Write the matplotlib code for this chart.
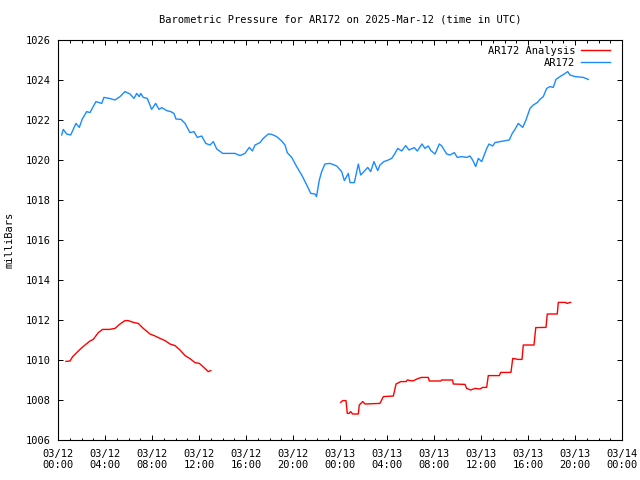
import matplotlib
matplotlib.use('Agg')
import matplotlib.pyplot as plt
from matplotlib.ticker import MultipleLocator

# hours since 03/12 00:00 UTC, pressure in millibars
obs_hours = [0.31, 0.45, 0.74, 1.08, 1.53, 1.81, 2.07, 2.44, 2.72, 3.23, 3.72, 3.91,
             4.37, 4.85, 5.28, 5.70, 6.13, 6.47, 6.70, 6.92, 7.04, 7.26, 7.60, 7.97,
             8.31, 8.60, 8.83, 9.25, 9.59, 9.87, 10.04, 10.47, 10.81, 11.23, 11.57,
             11.86, 12.23, 12.57, 12.94, 13.22, 13.51, 14.02, 15.06, 15.49, 15.91,
             16.28, 16.54, 16.77, 17.19, 17.47, 17.90, 18.19, 18.61, 19.04, 19.32,
             19.51, 19.89, 20.31, 20.74, 21.17, 21.51, 21.87, 22.00, 22.24, 22.44,
             22.72, 23.15, 23.72, 24.14, 24.37, 24.71, 24.85, 25.22, 25.56, 25.76,
             26.04, 26.36, 26.61, 26.89, 27.21, 27.40, 27.74, 28.11, 28.40, 28.68,
             28.91, 29.25, 29.59, 29.87, 30.32, 30.58, 30.98, 31.23, 31.51, 31.74,
             32.09, 32.45, 32.66, 33.08, 33.36, 33.73, 33.98, 34.36, 34.78, 35.06,
             35.29, 35.55, 35.77, 36.06, 36.28, 36.49, 36.68, 37.00, 37.19, 37.62,
             38.41, 38.66, 38.89, 39.17, 39.55, 39.83, 40.17, 40.45, 40.79, 41.02,
             41.30, 41.59, 41.87, 42.15, 42.38, 42.72, 43.09, 43.38, 43.57, 44.00,
             44.71, 45.13]
obs_mb = [1021.25, 1021.53, 1021.30, 1021.25, 1021.83, 1021.63, 1022.05, 1022.42,
          1022.37, 1022.92, 1022.83, 1023.13, 1023.08, 1023.00, 1023.17, 1023.42,
          1023.30, 1023.08, 1023.33, 1023.17, 1023.33, 1023.13, 1023.08, 1022.53,
          1022.83, 1022.53, 1022.62, 1022.47, 1022.42, 1022.33, 1022.05, 1022.03,
          1021.83, 1021.37, 1021.42, 1021.13, 1021.20, 1020.83, 1020.75, 1020.92,
          1020.55, 1020.33, 1020.33, 1020.22, 1020.33, 1020.63, 1020.45, 1020.75,
          1020.87, 1021.08, 1021.30, 1021.28, 1021.17, 1020.95, 1020.75, 1020.37,
          1020.13, 1019.67, 1019.25, 1018.75, 1018.33, 1018.30, 1018.17, 1019.00,
          1019.42, 1019.80, 1019.83, 1019.70, 1019.42, 1018.97, 1019.33, 1018.87,
          1018.87, 1019.80, 1019.25, 1019.42, 1019.63, 1019.42, 1019.92, 1019.47,
          1019.75, 1019.92, 1020.00, 1020.08, 1020.33, 1020.58, 1020.45, 1020.72,
          1020.50, 1020.62, 1020.45, 1020.80, 1020.58, 1020.70, 1020.47, 1020.30,
          1020.80, 1020.70, 1020.30, 1020.25, 1020.37, 1020.13, 1020.17, 1020.13,
          1020.20, 1020.00, 1019.67, 1020.08, 1019.92, 1020.25, 1020.58, 1020.80,
          1020.70, 1020.87, 1020.92, 1021.00, 1021.33, 1021.53, 1021.83, 1021.63,
          1022.00, 1022.58, 1022.75, 1022.87, 1023.03, 1023.17, 1023.58, 1023.67,
          1023.63, 1024.03, 1024.17, 1024.30, 1024.42, 1024.25, 1024.17, 1024.13,
          1024.03]

ana1_hours = [0.68, 1.02, 1.25, 1.59, 1.87, 2.30, 2.72, 3.00, 3.43, 3.80, 4.37, 4.85,
              5.28, 5.70, 5.98, 6.41, 6.83, 7.26, 7.83, 8.26, 8.68, 9.11, 9.53, 9.96,
              10.38, 10.81, 11.23, 11.66, 12.03, 12.43, 12.79, 13.00]
ana1_mb = [1009.93, 1009.95, 1010.17, 1010.37, 1010.53, 1010.75, 1010.95, 1011.03,
           1011.37, 1011.53, 1011.53, 1011.58, 1011.80, 1011.97, 1011.97, 1011.88,
           1011.83, 1011.58, 1011.30, 1011.20, 1011.08, 1010.97, 1010.80, 1010.72,
           1010.50, 1010.22, 1010.07, 1009.87, 1009.83, 1009.62, 1009.42, 1009.47]

ana2_hours = [24.06, 24.23, 24.51, 24.62, 24.77, 24.91, 25.08, 25.56, 25.64, 25.93,
              26.13, 27.40, 27.69, 28.54, 28.77, 29.17, 29.62, 29.73, 30.19, 30.66,
              30.95, 31.51, 31.60, 32.57, 32.65, 33.59, 33.64, 34.64, 34.78, 35.12,
              35.49, 35.91, 36.14, 36.48, 36.62, 37.56, 37.68, 38.55, 38.70, 39.17,
              39.49, 39.60, 40.51, 40.66, 41.53, 41.64, 42.49, 42.58, 43.21, 43.29,
              43.63]
ana2_mb = [1007.88, 1007.97, 1007.97, 1007.33, 1007.33, 1007.42, 1007.30, 1007.30,
           1007.75, 1007.92, 1007.80, 1007.83, 1008.17, 1008.20, 1008.80, 1008.92,
           1008.92, 1009.00, 1008.95, 1009.08, 1009.13, 1009.13, 1008.95, 1008.95,
           1009.00, 1009.00, 1008.80, 1008.78, 1008.58, 1008.50, 1008.58, 1008.55,
           1008.63, 1008.63, 1009.22, 1009.22, 1009.38, 1009.38, 1010.08, 1010.03,
           1010.03, 1010.75, 1010.75, 1011.62, 1011.63, 1012.30, 1012.30, 1012.88,
           1012.88, 1012.83, 1012.88]

tick_hours = list(range(0, 49, 4))
tick_labels = ['03/12\n00:00', '03/12\n04:00', '03/12\n08:00', '03/12\n12:00',
               '03/12\n16:00', '03/12\n20:00', '03/13\n00:00', '03/13\n04:00',
               '03/13\n08:00', '03/13\n12:00', '03/13\n16:00', '03/13\n20:00',
               '03/14\n00:00']

plt.rcParams['font.family'] = 'DejaVu Sans Mono'
fs = 7.5
red = '#ff0000'
blue = '#1a8cff'

fig = plt.figure(figsize=(6.4, 4.8), dpi=100)
ax = fig.add_axes([58 / 640, 40 / 480, 564 / 640, 400 / 480])

ax.plot(ana1_hours, ana1_mb, color=red, lw=1.0, label='AR172 Analysis')
ax.plot(ana2_hours, ana2_mb, color=red, lw=1.0)
ax.plot(obs_hours, obs_mb, color=blue, lw=1.0, label='AR172')

ax.set_xlim(0, 48)
ax.set_ylim(1006, 1026)
ax.set_xticks(tick_hours)
ax.set_xticklabels(tick_labels, fontsize=fs, linespacing=1.15)
ax.xaxis.set_minor_locator(MultipleLocator(1))
ax.yaxis.set_major_locator(MultipleLocator(2))
ax.tick_params(axis='y', labelsize=fs)
ax.tick_params(which='both', direction='in', top=True, right=True, width=0.7)
ax.tick_params(which='major', length=3.5)
ax.tick_params(which='minor', length=1.8)
ax.tick_params(axis='x', pad=6.5)
ax.tick_params(axis='y', pad=5.5)
for s in ax.spines.values():
    s.set_linewidth(0.8)

ax.legend(loc='upper right', bbox_to_anchor=(0.978, 0.985), frameon=False,
          markerfirst=False, fontsize=fs, handlelength=2.7, handletextpad=0.6,
          labelspacing=0.2, borderaxespad=0, borderpad=0)

fig.text(340 / 640, 1 - 19 / 480, 'Barometric Pressure for AR172 on 2025-Mar-12 (time in UTC)',
         ha='center', va='center', fontsize=fs)
fig.text(10 / 640, 0.5, 'milliBars', rotation=90, ha='center', va='center', fontsize=fs)

fig.savefig('out.png', dpi=100)
